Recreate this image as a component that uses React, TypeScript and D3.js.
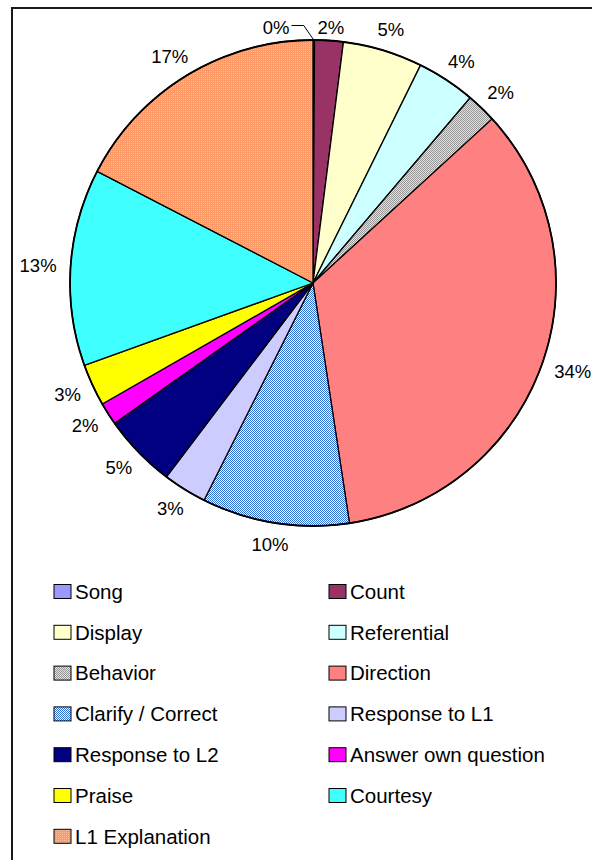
import React from 'react';
import * as d3 from 'd3';

const categories = [
  'Song', 'Count', 'Display', 'Referential', 'Behavior', 'Direction',
  'Clarify / Correct', 'Response to L1', 'Response to L2', 'Answer own question',
  'Praise', 'Courtesy', 'L1 Explanation',
];
const values = [0.1, 1.9, 5.3, 3.9, 2.0, 34.4, 9.8, 2.9, 4.9, 1.5, 2.8, 13.1, 17.4];
const percentLabels = ['0%', '2%', '5%', '4%', '2%', '34%', '10%', '3%', '5%', '2%', '3%', '13%', '17%'];
const fills = [
  '#9999ff', '#993366', '#ffffcc', '#ccffff', 'url(#pBehavior)', '#ff8080',
  'url(#pClarify)', '#ccccff', '#000080', '#ff00ff', '#ffff00', '#40ffff', 'url(#pL1)',
];

const W = 592;
const H = 860;
const frameX = 12;
const frameY = 8;
const cx = 313;
const cy = 283;
const R = 243;
const labelFs = 18.5;
const legendFs = 20.5;
const FONT = '"Liberation Sans", Arial, sans-serif';

function textWidth(s: string, fs: number) {
  let w = 0;
  for (const ch of s) w += ch === '%' ? 0.889 : 0.556;
  return w * fs;
}

export default function App() {
  const pie = d3.pie<number>().sort(null).value((d) => d).startAngle(0).endAngle(2 * Math.PI);
  const arcs = pie(values);
  const arcGen = d3.arc<d3.PieArcDatum<number>>().innerRadius(0).outerRadius(R);

  type L = { x: number; y: number; w: number; h: number; mid: number; leader: boolean };
  const D = 257;
  const hh = 8;
  const labels: L[] = arcs.map((a, i) => {
    const mid = (a.startAngle + a.endAngle) / 2;
    const ux = Math.sin(mid);
    const uy = -Math.cos(mid);
    const w = textWidth(percentLabels[i], labelFs);
    return {
      x: cx + (D + w / 2) * ux,
      y: cy + (D + hh) * uy,
      w,
      h: 19,
      mid,
      leader: false,
    };
  });
  // keep labels inside the chart frame with a margin
  const minY = frameY + 19.5;
  labels.forEach((l) => {
    if (l.y < minY) l.y = minY;
  });
  // resolve overlaps between neighbours: the smaller slice moves away with a leader
  for (let i = 0; i < labels.length - 1; i++) {
    const a = labels[i];
    const b = labels[i + 1];
    const sep = Math.abs(a.x - b.x);
    const need = (a.w + b.w) / 2 + 4;
    const vOverlap = Math.abs(a.y - b.y) < (a.h + b.h) / 2;
    if (sep < need && vOverlap) {
      const shift = need - sep + 24;
      if (values[i] <= values[i + 1]) {
        a.x -= shift;
        a.leader = true;
      } else {
        b.x += shift;
        b.leader = true;
      }
    }
  }

  const legendRow0 = 591.5;
  const legendStep = 40.8;
  const legendColX = [54, 329];

  return (
    <div style={{ position: 'absolute', left: 0, top: 0 }}>
      <svg width={W} height={H} style={{ display: 'block' }}>
        <defs>
          <pattern id="pBehavior" width={2} height={2} patternUnits="userSpaceOnUse">
            <rect width={2} height={2} fill="#e2e2e2" />
            <rect x={0} y={0} width={1} height={1} fill="#969696" />
            <rect x={1} y={1} width={1} height={1} fill="#969696" />
          </pattern>
          <pattern id="pClarify" width={2} height={2} patternUnits="userSpaceOnUse">
            <rect width={2} height={2} fill="#ffffff" />
            <rect x={0} y={0} width={1} height={1} fill="#2e6fd6" />
            <rect x={1} y={1} width={1} height={1} fill="#2e6fd6" />
          </pattern>
          <pattern id="pL1" width={2} height={2} patternUnits="userSpaceOnUse">
            <rect width={2} height={2} fill="#ff9966" />
            <rect x={0} y={0} width={1} height={1} fill="#ffb894" />
          </pattern>
        </defs>
        <rect x={0} y={0} width={W} height={H} fill="#ffffff" />
        <rect x={frameX} y={frameY} width={W + 40} height={H + 40} fill="none" stroke="#1a1a1a" strokeWidth={2} />

        <g transform={`translate(${cx},${cy})`}>
          {arcs.map((a, i) => (
            <path key={i} d={arcGen(a) || ''} fill={fills[i]} stroke="#000" strokeWidth={1.3} strokeLinejoin="round" />
          ))}
          <circle r={R} fill="none" stroke="#000" strokeWidth={1.8} />
        </g>

        {labels.map((l, i) => {
          let leaderPath = '';
          if (l.leader) {
            const ex = cx + R * Math.sin(l.mid);
            const ey = cy - R * Math.cos(l.mid);
            const ly = l.y - 2;
            const side = l.x < ex ? -1 : 1;
            const lx = l.x - side * (l.w / 2 + 2);
            leaderPath = `M${ex},${ey}L${ex + side * 10},${ly}L${lx},${ly}`;
          }
          return (
            <g key={i}>
              {l.leader && <path d={leaderPath} fill="none" stroke="#000" strokeWidth={1} />}
              <text
                x={l.x}
                y={l.y}
                dy="0.36em"
                textAnchor="middle"
                fontFamily={FONT}
                fontSize={labelFs}
                fill="#000"
              >
                {percentLabels[i]}
              </text>
            </g>
          );
        })}

        {categories.map((c, i) => {
          const col = i % 2;
          const row = Math.floor(i / 2);
          const y = legendRow0 + row * legendStep;
          const x = legendColX[col];
          return (
            <g key={c}>
              <rect x={x} y={y - 7} width={17} height={14} fill={fills[i]} stroke="#000" strokeWidth={1} />
              <text x={x + 21} y={y} dy="0.36em" fontFamily={FONT} fontSize={legendFs} fill="#000">
                {c}
              </text>
            </g>
          );
        })}
      </svg>
    </div>
  );
}
